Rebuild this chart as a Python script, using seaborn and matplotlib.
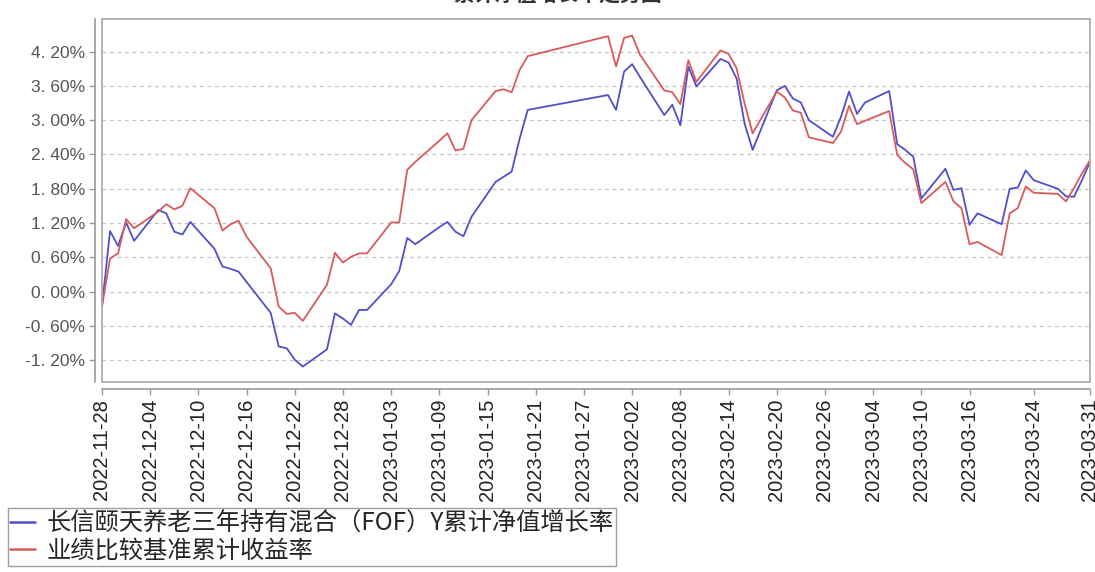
import matplotlib
matplotlib.use("Agg")
import matplotlib.pyplot as plt
import matplotlib.dates as mdates
from matplotlib.patches import Rectangle
import numpy as np
import pandas as pd
import seaborn as sns

dates = [
    "2022-11-28", "2022-11-29", "2022-11-30", "2022-12-01", "2022-12-02",
    "2022-12-05", "2022-12-06", "2022-12-07", "2022-12-08", "2022-12-09",
    "2022-12-12", "2022-12-13", "2022-12-14", "2022-12-15", "2022-12-16",
    "2022-12-19", "2022-12-20", "2022-12-21", "2022-12-22", "2022-12-23",
    "2022-12-26", "2022-12-27", "2022-12-28", "2022-12-29", "2022-12-30",
    "2022-12-31", "2023-01-03", "2023-01-04", "2023-01-05", "2023-01-06",
    "2023-01-09", "2023-01-10", "2023-01-11", "2023-01-12", "2023-01-13",
    "2023-01-16", "2023-01-17", "2023-01-18", "2023-01-19", "2023-01-20",
    "2023-01-30", "2023-01-31", "2023-02-01", "2023-02-02", "2023-02-03",
    "2023-02-06", "2023-02-07", "2023-02-08", "2023-02-09", "2023-02-10",
    "2023-02-13", "2023-02-14", "2023-02-15", "2023-02-16", "2023-02-17",
    "2023-02-20", "2023-02-21", "2023-02-22", "2023-02-23", "2023-02-24",
    "2023-02-27", "2023-02-28", "2023-03-01", "2023-03-02", "2023-03-03",
    "2023-03-06", "2023-03-07", "2023-03-08", "2023-03-09", "2023-03-10",
    "2023-03-13", "2023-03-14", "2023-03-15", "2023-03-16", "2023-03-17",
    "2023-03-20", "2023-03-21", "2023-03-22", "2023-03-23", "2023-03-24",
    "2023-03-27", "2023-03-28", "2023-03-29", "2023-03-30", "2023-03-31",
]

fund_growth = [
    -0.26, 1.06, 0.80, 1.21, 0.89,
    1.43, 1.37, 1.05, 1.00, 1.22,
    0.75, 0.44, 0.40, 0.35, 0.17,
    -0.37, -0.96, -0.99, -1.19, -1.31,
    -1.01, -0.38, -0.47, -0.58, -0.32,
    -0.32, 0.13, 0.36, 0.94, 0.83,
    1.13, 1.22, 1.05, 0.97, 1.31,
    1.92, 2.01, 2.10, 2.68, 3.18,
    3.44, 3.18, 3.85, 3.98, 3.75,
    3.09, 3.27, 2.91, 3.94, 3.59,
    4.07, 4.01, 3.73, 2.94, 2.48,
    3.52, 3.60, 3.38, 3.31, 3.00,
    2.71, 3.06, 3.50, 3.11, 3.31,
    3.51, 2.58, 2.48, 2.36, 1.63,
    2.15, 1.78, 1.81, 1.17, 1.37,
    1.18, 1.80, 1.82, 2.12, 1.95,
    1.80, 1.67, 1.66, 1.95, 2.27,
]

benchmark_growth = [
    -0.26, 0.58, 0.67, 1.27, 1.11,
    1.40, 1.53, 1.44, 1.50, 1.81,
    1.46, 1.07, 1.18, 1.24, 0.96,
    0.41, -0.26, -0.39, -0.37, -0.51,
    0.12, 0.68, 0.51, 0.61, 0.67,
    0.67, 1.21, 1.21, 2.13, 2.27,
    2.64, 2.77, 2.47, 2.50, 3.00,
    3.51, 3.54, 3.49, 3.88, 4.12,
    4.47, 3.94, 4.44, 4.48, 4.14,
    3.52, 3.49, 3.28, 4.05, 3.67,
    4.22, 4.16, 3.91, 3.29, 2.77,
    3.50, 3.40, 3.17, 3.13, 2.70,
    2.60, 2.80, 3.25, 2.93, 2.99,
    3.16, 2.39, 2.25, 2.14, 1.55,
    1.92, 1.58, 1.46, 0.83, 0.87,
    0.64, 1.37, 1.46, 1.84, 1.73,
    1.71, 1.58, 1.81, 2.07, 2.30,
]

series_names = ["长信颐天养老三年持有混合（FOF）Y累计净值增长率", "业绩比较基准累计收益率"]
series_colors = ["#4f4fcc", "#d95a5a"]

x_tick_labels = [
    "2022-11-28", "2022-12-04", "2022-12-10", "2022-12-16", "2022-12-22",
    "2022-12-28", "2023-01-03", "2023-01-09", "2023-01-15", "2023-01-21",
    "2023-01-27", "2023-02-02", "2023-02-08", "2023-02-14", "2023-02-20",
    "2023-02-26", "2023-03-04", "2023-03-10", "2023-03-16", "2023-03-24",
    "2023-03-31",
]
y_ticks = [-1.2, -0.6, 0.0, 0.6, 1.2, 1.8, 2.4, 3.0, 3.6, 4.2]
title_text = "累计净值增长率走势图"

df = pd.DataFrame({
    "date": pd.to_datetime(dates * 2),
    "value": fund_growth + benchmark_growth,
    "series": [series_names[0]] * len(dates) + [series_names[1]] * len(dates),
})

sns.set_style("white")
plt.rcParams["font.family"] = ["Liberation Sans", "Noto Sans CJK SC", "DejaVu Sans"]

fig = plt.figure(figsize=(10.95, 5.72), dpi=100)
ax = fig.add_axes([102 / 1095, 1 - 382 / 572, (1090 - 102) / 1095, (382 - 19) / 572])

sns.lineplot(data=df, x="date", y="value", hue="series", hue_order=series_names,
             palette=series_colors, linewidth=1.3, ax=ax, legend=False)

ax.set_xlim(pd.Timestamp("2022-11-28"), pd.Timestamp("2023-03-31"))
ax.set_ylim(-1.58, 4.77)
ax.set_xlabel("")
ax.set_ylabel("")

ax.set_yticks(y_ticks)
ax.set_yticklabels([f"{v:.2f}%".replace(".", ". ") for v in y_ticks])
ax.set_xticks(pd.to_datetime(x_tick_labels))
ax.xaxis.set_major_formatter(mdates.DateFormatter("%Y-%m-%d"))
ax.tick_params(axis="x", labelrotation=90, labelsize=14.5, labelcolor="#222222")
ax.tick_params(axis="y", labelsize=12.5, labelcolor="#555555")

ax.yaxis.grid(True, linestyle=(0, (3, 3)), color="#c4c4c4", linewidth=0.9)
ax.xaxis.grid(False)

for s in ["top", "right"]:
    ax.spines[s].set_visible(False)
for s in ["left", "bottom"]:
    ax.spines[s].set_position(("outward", 5))
    ax.spines[s].set_color("#9a9a9a")
    ax.spines[s].set_linewidth(1.2)
ax.add_patch(Rectangle((0, 0), 1, 1, transform=ax.transAxes, fill=False,
                       edgecolor="#a8a8a8", linewidth=1.2, clip_on=False, zorder=5))
ax.tick_params(axis="both", which="both", length=4, width=1, color="#9a9a9a",
               direction="out", pad=3, left=True, bottom=True)

fig.text(558 / 1095, 1 - 5 / 572, title_text, ha="center", va="bottom",
         fontsize=15, fontweight="bold", color="#333333",
         family=["Noto Sans CJK SC", "DejaVu Sans"])

handles = [plt.Line2D([], [], color=c, linewidth=1.8) for c in series_colors]
leg = fig.legend(handles, series_names, loc="upper left",
                 bbox_to_anchor=(8 / 1095, 1 - 508 / 572), ncol=1,
                 frameon=True, fancybox=False, edgecolor="#888888",
                 handlelength=1.0, handletextpad=0.5, borderpad=0.1,
                 labelspacing=0.05, borderaxespad=0,
                 prop={"family": ["Noto Sans CJK SC", "DejaVu Sans"], "size": 17.5})
leg.get_frame().set_linewidth(1.0)

fig.savefig("out.png", dpi=100)
